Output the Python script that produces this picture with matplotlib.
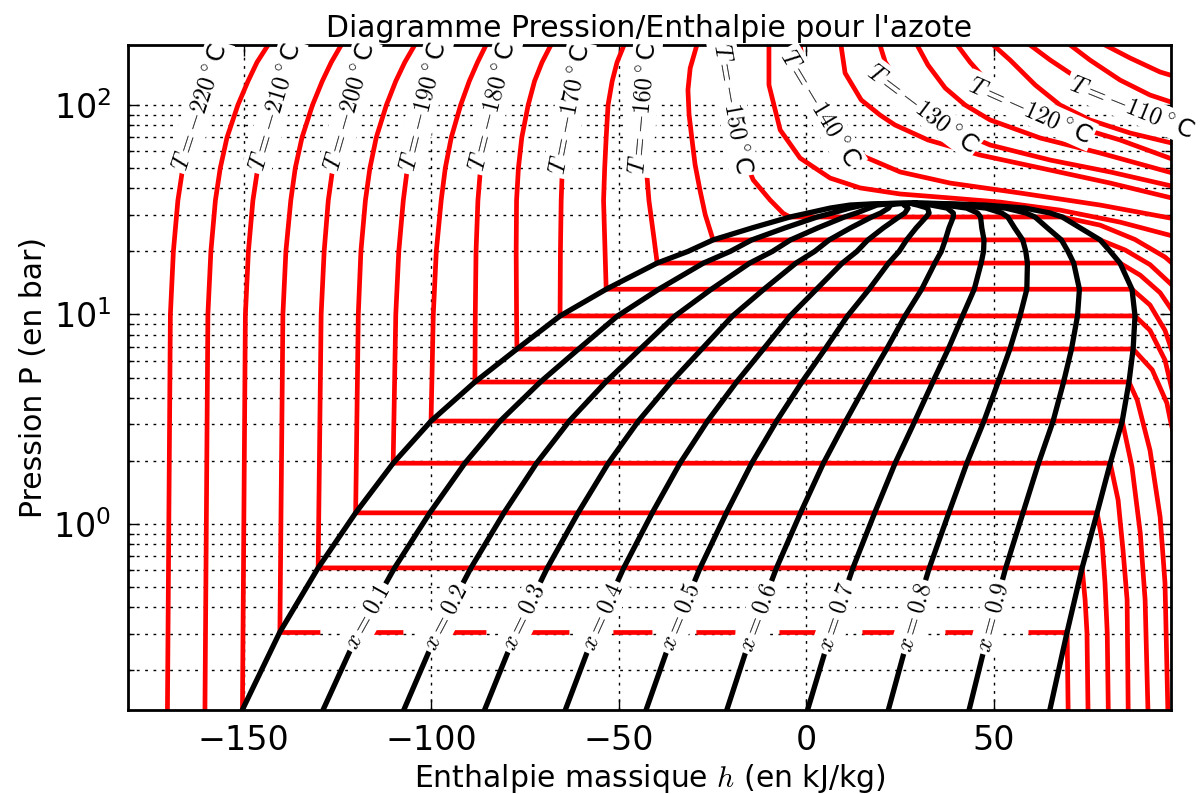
import numpy as np
import matplotlib.pyplot as plt

plt.rcParams['font.family'] = ['DejaVu Sans']
plt.rcParams['mathtext.fontset'] = 'dejavusans'

# saturation dome (P in bar, h in kJ/kg)
sat_P = [0.132, 0.305, 0.617, 1.13, 1.95, 3.10, 4.76, 6.84, 9.84, 13.2, 17.6, 20.0, 22.7, 25.9,
         29.2, 30.5, 32.2, 33.3, 33.7, 33.9, 33.96]
sat_hl = [-150.1, -140.3, -130.1, -120.1, -110.1, -100.0, -88.3, -77.1, -65.6, -53.3, -39.7, -31.5, -24.8, -14.4,
          -4.3, 0.5, 6.4, 11.7, 17.1, 22.4, 29.0]
sat_hv = [65.1, 69.6, 73.6, 77.6, 81.1, 84.3, 86.1, 87.2, 87.7, 86.9, 83.7, 81.1, 78.4, 73.1,
          68.3, 65.1, 58.4, 47.7, 39.7, 34.4, 29.0]

qualities = [0.1, 0.2, 0.3, 0.4, 0.5, 0.6, 0.7, 0.8, 0.9]

# liquid side of the isotherms (from saturation / bottom upwards)
liq_T = [-220, -215, -210, -205, -200, -195, -190, -185, -180, -175, -170, -165, -160, -155, -150]
liq_P = [
    [0.12, 10, 20, 35, 50, 70, 100, 130, 160, 194],
    [0.12, 10, 20, 35, 50, 70, 100, 130, 160, 194],
    [0.12, 10, 20, 35, 50, 70, 100, 130, 160, 194],
    [0.305, 10, 20, 35, 50, 70, 100, 130, 160, 194],
    [0.617, 10, 20, 35, 50, 70, 100, 130, 160, 194],
    [1.13, 10, 20, 35, 50, 70, 100, 130, 160, 194],
    [1.95, 10, 20, 35, 50, 70, 100, 130, 160, 194],
    [3.10, 10, 20, 35, 50, 70, 100, 130, 160, 194],
    [4.76, 10, 20, 35, 50, 70, 100, 130, 160, 194],
    [6.84, 10, 20, 35, 50, 70, 100, 130, 160, 194],
    [9.84, 20, 35, 50, 70, 100, 130, 160, 194],
    [13.2, 20, 35, 50, 70, 100, 130, 160, 194],
    [17.6, 22.7, 35, 50, 70, 100, 130, 160, 194],
    [22.7, 30, 39.3, 52, 68, 90, 118, 150, 194],
    [29.2, 30.4, 35.2, 43.9, 54.5, 84.8, 131, 194],
]
liq_h = [
    [-170.3, -169.5, -168.7, -167.5, -166.2, -164.4, -161.5, -158.8, -156.4, -153.4],
    [-160.3, -159.5, -158.7, -157.5, -156.2, -154.4, -151.5, -148.8, -146.4, -143.4],
    [-150.3, -149.5, -148.7, -147.5, -146.2, -144.4, -141.5, -138.8, -136.4, -133.4],
    [-140.3, -139.5, -138.7, -137.4, -136.2, -134.4, -131.6, -129.0, -126.6, -123.9],
    [-130.1, -129.3, -128.5, -127.4, -126.2, -124.4, -121.6, -119.0, -116.6, -114.1],
    [-120.1, -119.4, -118.7, -117.5, -116.3, -114.6, -111.9, -109.4, -107.0, -104.3],
    [-110.1, -109.4, -108.6, -107.4, -106.3, -104.6, -102.0, -99.6, -97.3, -94.9],
    [-100.0, -99.4, -98.6, -97.3, -96.2, -94.6, -92.1, -89.8, -87.6, -85.3],
    [-88.3, -88.2, -88.0, -87.5, -86.8, -85.6, -83.6, -81.7, -79.5, -76.8],
    [-77.1, -77.2, -77.3, -77.2, -76.7, -75.8, -74.1, -72.4, -70.4, -68.0],
    [-65.6, -65.5, -65.3, -65.0, -64.3, -63.0, -61.6, -59.9, -57.8],
    [-53.3, -53.6, -54.0, -53.7, -53.3, -52.8, -51.7, -50.4, -48.5],
    [-39.7, -40.5, -41.9, -42.6, -43.2, -43.7, -43.7, -43.4, -42.9],
    [-24.8, -26.9, -28.3, -29.6, -30.4, -31.2, -31.5, -30.9, -29.1],
    [-4.3, -6.1, -9.6, -14.1, -16.3, -18.9, -21.1, -22.4],
]

# vapour side of the isotherms (from the dew point downwards)
vap_T = [-205, -200, -195, -190, -185, -180, -175, -170, -165, -160, -155, -150]
vap_P = [
    [0.305, 0.12],
    [0.617, 0.434, 0.302, 0.12],
    [1.13, 0.839, 0.523, 0.302, 0.12],
    [1.95, 1.30, 0.751, 0.434, 0.12],
    [3.10, 1.87, 0.906, 0.434, 0.12],
    [4.76, 3.90, 2.25, 1.08, 0.523, 0.12],
    [6.84, 5.44, 3.78, 3.14, 2.0],
    [9.84, 8.4, 6.06, 4.36, 2.52],
    [13.2, 11.1, 8.4, 6.06],
    [17.6, 15.4, 12.7, 9.96],
    [22.7, 20.3, 17.3, 13.8],
    [29.2, 26.7, 22.8, 18.8, 16.3],
]
vap_h = [
    [69.6, 69.9],
    [73.6, 74.4, 74.9, 75.2],
    [77.6, 78.9, 79.7, 80.3, 80.6],
    [81.1, 83.2, 84.5, 85.6, 85.9],
    [84.3, 86.9, 89.1, 90.4, 91.2],
    [86.1, 88.3, 91.7, 94.4, 95.7, 96.5],
    [87.2, 92.3, 96.2, 97.1, 99.7],
    [87.7, 91.7, 95.7, 97.6, 101.0],
    [86.9, 91.7, 95.7, 98.4],
    [83.7, 89.1, 94.4, 98.4],
    [78.4, 85.1, 91.7, 97.6],
    [68.3, 78.4, 87.7, 95.7, 99.7],
]

# supercritical isotherms (from the top of the chart downwards)
sc_T = [-145, -140, -135, -130, -125, -120, -115, -110, -105, -100]
sc_P = [
    [193.4, 124.6, 76.0, 55.8, 44.8, 40.2, 37.6, 36.0, 34.4, 31.5, 27.6, 23.2],
    [193.4, 139.1, 96.8, 71.9, 56.5, 47.9, 42.4, 38.0, 33.3, 28.3],
    [193.4, 142.1, 105.7, 89.6, 80.3, 68.1, 57.7, 48.9, 42.4, 35.2],
    [193.4, 160.4, 124.6, 96.8, 77.7, 64.4, 54.6, 47.9, 40.2],
    [193.4, 155.2, 120.5, 100.0, 84.8, 69.6, 59.0, 46.3],
    [193.4, 160.4, 124.6, 105.7, 94.7, 80.3, 68.1, 53.5],
    [193.4, 163.9, 124.6, 100.0, 84.8, 73.5, 64.4],
    [193.4, 163.9, 131.6, 111.6, 97.8, 80.3],
    [193.4, 163.9, 131.6, 111.6, 100.0],
    [193.4, 167.6, 143.7, 134.6],
]
sc_h = [
    [-9.9, -9.9, -6.9, -1.6, 6.4, 14.4, 25.1, 38.4, 51.7, 67.7, 83.7, 99.7],
    [-1.6, -0.3, 3.7, 9.1, 15.7, 25.1, 38.4, 57.1, 78.4, 99.7],
    [9.3, 10.4, 14.7, 19.7, 23.7, 32.5, 46.4, 65.1, 81.1, 99.7],
    [19.7, 21.1, 25.1, 30.9, 38.4, 49.1, 65.1, 81.1, 99.7],
    [29.6, 32.5, 37.1, 42.4, 49.1, 62.4, 78.4, 99.7],
    [40.3, 43.7, 49.1, 54.4, 59.7, 70.4, 83.7, 99.7],
    [49.9, 54.4, 61.1, 67.7, 75.7, 86.4, 99.7],
    [59.7, 65.1, 73.1, 79.7, 86.7, 99.7],
    [70.4, 75.7, 83.7, 91.7, 99.7],
    [79.7, 86.4, 94.4, 99.7],
]

# isotherm labels: temperature, pressure where the label sits, text angle
lab_T = [-220, -210, -200, -190, -180, -170, -160, -150, -140, -130, -120, -110]
lab_P = [97.8, 97.8, 97.8, 97.8, 97.8, 94.7, 96.3, 96.3, 96.8, 96.8, 94.7, 97.8]
lab_rot = [72, 73.5, 74, 76, 76, 79, 85, -80, -59, -37, -24, -22]
x_lab_P = 0.36

fig = plt.figure(figsize=(12.04, 7.94), dpi=100)
ax = fig.add_axes([128 / 1204, 1 - 710 / 794, (1171 - 128) / 1204, (710 - 45) / 794])
ax.set_yscale('log')
ax.set_xlim(-180.8, 97.3)
ax.set_ylim(0.1294, 193.4)

red = '#ff0000'
lw_r = 3.4

# isotherms below the critical point
for T, hl, Pl in zip(liq_T, liq_h, liq_P):
    h_line = list(hl[::-1])
    P_line = list(Pl[::-1])
    if T in vap_T:
        j = vap_T.index(T)
        if T == -205:
            # this one comes out dashed in the original
            ax.plot(h_line, P_line, color=red, lw=lw_r, zorder=2)
            ax.plot([vap_h[j][0], hl[0]], [Pl[0], Pl[0]], color=red, lw=lw_r,
                    ls=(0, (8.26, 9.32)), solid_capstyle='butt', zorder=2)
            ax.plot(vap_h[j], vap_P[j], color=red, lw=lw_r, zorder=2)
            continue
        h_line += vap_h[j]
        P_line += vap_P[j]
    ax.plot(h_line, P_line, color=red, lw=lw_r, zorder=2)

# isotherms above the critical point
for hs, Ps in zip(sc_h, sc_P):
    ax.plot(hs, Ps, color=red, lw=lw_r, zorder=2)

# dome and constant quality lines
hl_arr = np.array(sat_hl)
hv_arr = np.array(sat_hv)
for x in [0.0] + qualities + [1.0]:
    ax.plot(hl_arr + x * (hv_arr - hl_arr), sat_P, color='k', lw=3.8, zorder=3)

box = dict(boxstyle='square,pad=0.12', fc='white', ec='none')


def h_on_line(hs, Ps, P):
    lp = np.log10(Ps)
    order = np.argsort(lp)
    return np.interp(np.log10(P), lp[order], np.asarray(hs)[order])


# labels of the quality lines
lq = np.log10(x_lab_P)
for x in qualities:
    hq = hl_arr + x * (hv_arr - hl_arr)
    h0 = h_on_line(hq, sat_P, x_lab_P)
    pa = ax.transData.transform((h_on_line(hq, sat_P, 10 ** (lq - 0.04)), 10 ** (lq - 0.04)))
    pb = ax.transData.transform((h_on_line(hq, sat_P, 10 ** (lq + 0.04)), 10 ** (lq + 0.04)))
    ang = np.degrees(np.arctan2(pb[1] - pa[1], pb[0] - pa[0]))
    ax.text(h0, x_lab_P, r'$x=%.1f$' % x, fontsize=17, math_fontfamily='cm',
            rotation=ang, rotation_mode='anchor', ha='center', va='center',
            bbox=box, zorder=6)

# labels of the isotherms
for T, P, r in zip(lab_T, lab_P, lab_rot):
    if T in liq_T:
        k = liq_T.index(T)
        h0 = h_on_line(liq_h[k], liq_P[k], P)
    else:
        k = sc_T.index(T)
        h0 = h_on_line(sc_h[k], sc_P[k], P)
    ax.text(h0, P, r'$T=%d^\circ$C' % T, fontsize=17.5, math_fontfamily='cm',
            rotation=r, rotation_mode='anchor', ha='center', va='center',
            bbox=box, zorder=6, clip_on=False)

for s in ax.spines.values():
    s.set_linewidth(2)
ax.tick_params(which='both', direction='in', top=True, right=True, labelsize=24)
ax.tick_params(which='major', length=8, width=1)
ax.tick_params(which='minor', length=4, width=1)
ax.tick_params(axis='x', pad=10)
ax.tick_params(axis='y', pad=12)
ax.grid(True, which='major', axis='x', color='k', lw=1, ls=(0, (2, 4)))
ax.grid(True, which='both', axis='y', color='k', lw=1, ls=(0, (2, 4)))

ax.set_xlabel('Enthalpie massique $h$ (en kJ/kg)', fontsize=21.5, math_fontfamily='cm')
ax.set_ylabel('Pression P (en bar)', fontsize=21.5)
ax.set_title("Diagramme Pression/Enthalpie pour l'azote", fontsize=21.5)

fig.savefig('out.png', dpi=100)
